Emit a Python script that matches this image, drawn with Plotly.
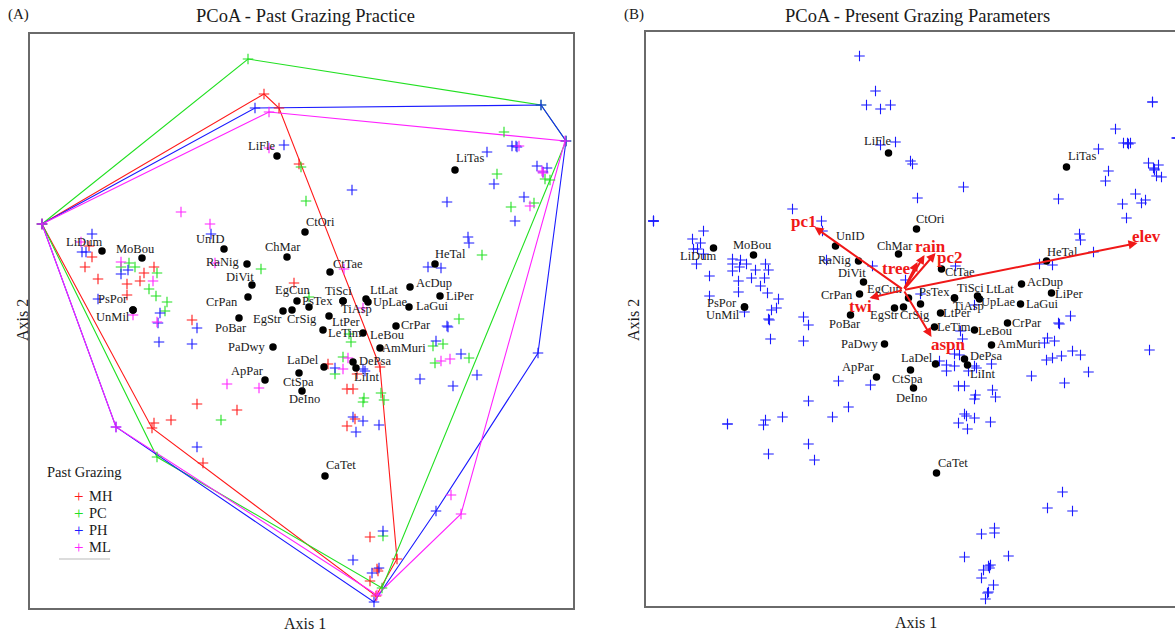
import plotly.graph_objects as go

# ---- site scores (PCoA axis 1 / axis 2), grouped by past grazing practice ----
mh_x = [-2.58, -0.36, -0.21, -0.01, -0.06, -2.11, -2.08, -2.15, -2.02, -1.46, -1.56, -1.60, -1.73, -1.73,
        -1.08, -1.03, -1.46, -1.48, -1.29, -0.97, -0.63, 0.28, 0.80, 0.57, 0.47, 0.53, 0.55, 0.47, 0.70,
        0.97, 0.77, 0.78, 0.70, 0.76]
mh_y = [1.06, 2.36, 2.22, 1.66, 0.47, 0.84, 0.73, 0.63, 0.51, 0.63, 0.57, 0.49, 0.46, 0.35,
        0.10, -0.74, -0.93, -0.98, -0.90, -1.33, -0.80, -0.34, -0.37, -0.44, -0.59, -0.59, -0.89, -0.96, -2.07,
        -2.29, -2.39, -2.41, -2.51, -2.66]

pc_x = [-2.58, -0.52, 2.41, 2.66, 0.01, 0.06, -0.39, 0.09, -1.71, -1.65, -1.79, -1.43, -1.51, -1.44,
        -1.33, -1.35, -1.43, -0.79, 0.49, 0.51, 0.43, 0.35, 0.64, 0.63, 0.81, 0.84, 0.83, 0.82, 2.04,
        1.97, 2.45, 2.50, 2.34, 2.11, 1.82, 1.59, 1.43, 1.33, 1.35, 1.69]
pc_y = [1.06, 2.71, 2.25, 1.89, 1.63, 1.29, 0.61, 0.33, 0.67, 0.63, 0.63, 0.57, 0.41, 0.34,
        0.28, 0.19, -1.27, -0.90, -0.04, -0.12, -0.27, -0.44, -0.68, -0.72, -0.63, -0.70, -2.06, -2.58, 1.98,
        1.56, 1.51, 1.50, 1.27, 1.23, 0.75, 0.11, -0.14, -0.16, -0.33, -0.28]

ph_x = [-2.58, -0.45, 2.41, 2.66, 2.38, 1.36, 0.74, -1.84, -2.08, -2.18, -2.14, -1.72, -1.79, -2.02,
        -1.40, -1.42, -1.03, -1.41, -1.08, -1.03, -0.89, -0.16, 0.52, 0.35, 0.63, 0.65, 0.53, 0.63,
        0.56, 0.79, 0.83, 0.53, 0.79, 0.72, 1.47, 1.48, 1.36, 1.61, 1.20, 1.53, 1.77, 1.28, 1.41,
        1.68, 1.69, 1.47, 1.87, 2.12, 2.16, 2.17, 2.37, 2.47, 2.43, 1.94, 2.24, 2.15]
ph_y = [1.06, 2.22, 2.25, 1.89, -0.23, -1.81, -2.72, -0.97, 0.96, 0.78, 0.78, 0.60, 0.56, 0.31,
        0.17, 0.07, 0.02, -0.12, -0.14, -1.17, 0.96, 1.85, 1.40, -0.38, -0.39, -0.41, -0.87, -0.91,
        -1.02, -0.95, -2.01, -2.30, -2.38, -2.43, 0.04, 0.03, -0.11, -0.24, -0.49, -0.56, -0.45, 0.63, 0.62,
        0.93, 0.87, 1.28, 1.78, 1.84, 1.84, 1.83, 1.64, 1.62, 1.58, 1.46, 1.33, 1.09]

ml_x = [-2.58, -0.31, 2.65, 1.61, 0.77, -1.84, -0.31, -1.19, -0.90, -0.85, 0.44, 0.63, -2.19, -1.79,
        -1.47, -1.67, -1.43, -0.73, -0.41, 0.48, 0.43, 1.41, 1.50, 1.51, 2.19, 2.42, 2.43, 2.30]
ml_y = [1.06, 2.18, 1.89, -1.84, -2.65, -0.97, 1.82, 1.18, 1.06, 0.67, 0.61, 0.22, 0.88, 0.68,
        0.49, 0.15, 0.08, -0.54, -0.58, -0.28, -0.39, -0.31, -0.29, -1.65, 1.84, 1.59, 1.57, 1.24]

groups = ["MH", "PC", "PH", "ML"]
group_colors = {"MH": "#ff1a1a", "PC": "#22e022", "PH": "#1a1aff", "ML": "#ff22ff"}

# ---- species scores ----
species = ["LiFle", "LiTas", "CtOri", "UnID", "ChMar", "LiDum", "MoBou", "RaNig", "HeTal", "CtTae",
           "DiVit", "AcDup", "LiPer", "CrPan", "EgCun", "PsTex", "TiSci", "LtLat", "UpLae", "TiAsp",
           "LaGui", "EgStr", "CrSig", "PoBar", "PsPor", "UnMil", "LtPer", "LeTim", "LeBou", "CrPar",
           "AmMuri", "PaDwy", "LaDel", "DePsa", "LiInt", "CtSpa", "ApPar", "DeIno", "CaTet"]
sp_x = [-0.23, 1.55, 0.05, -0.76, -0.13, -1.98, -1.58, -0.53, 1.35, 0.30,
        -0.48, 1.10, 1.40, -0.52, -0.03, 0.09, 0.43, 0.66, 0.68, 0.43,
        1.09, -0.17, -0.08, -0.61, -1.67, -1.67, 0.29, 0.23, 0.63, 0.96,
        0.80, -0.27, 0.24, 0.53, 0.56, -0.01, -0.35, 0.02, 0.25]
sp_y = [1.74, 1.60, 0.98, 0.81, 0.73, 0.79, 0.72, 0.66, 0.66, 0.58,
        0.45, 0.43, 0.34, 0.33, 0.29, 0.23, 0.29, 0.31, 0.28, 0.29,
        0.23, 0.19, 0.20, 0.12, 0.20, 0.20, 0.14, 0.00, -0.03, 0.04,
        -0.18, -0.17, -0.37, -0.32, -0.38, -0.43, -0.50, -0.61, -1.46]

# ---- fitted environmental vectors (present grazing parameters) ----
env_names = ["elev", "pc1", "rain", "pc2", "tree", "twi", "aspn"]
env_dx = [2.34, -0.89, 0.21, 0.32, 0.14, -0.34, 0.28]
env_dy = [0.47, 0.63, 0.35, 0.37, 0.28, -0.08, -0.47]
env_origin = (-0.08, 0.37)

# label nudges in screen pixels (dx right, dy down) so names sit beside their points
lab_a = {"LiFle": (-15, -10), "LiTas": (15, -12), "CtOri": (15, -10), "UnID": (-14, -10), "ChMar": (-4, -10),
         "LiDum": (-18, -9), "MoBou": (-7, -9), "RaNig": (-25, -2), "HeTal": (15, -10), "CtTae": (18, -8),
         "DiVit": (-12, -8), "AcDup": (24, -4), "LiPer": (20, 0), "CrPan": (-26, 5), "EgCun": (-5, -11),
         "PsTex": (8, -6), "TiSci": (-5, -10), "LtLat": (18, -9), "UpLae": (22, 0), "TiAsp": (13, 8),
         "LaGui": (23, -1), "EgStr": (-16, 8), "CrSig": (10, 9), "PoBar": (-8, 10), "PsPor": (-20, -11),
         "UnMil": (-20, 7), "LtPer": (17, 6), "LeTim": (22, 3), "LeBou": (24, 2), "CrPar": (20, -1),
         "AmMuri": (24, 0), "PaDwy": (-26, 0), "LaDel": (-21, -7), "DePsa": (22, -1), "LiInt": (11, 9),
         "CtSpa": (-1, 9), "ApPar": (-18, -9), "DeIno": (2, 8), "CaTet": (16, -11)}
lab_b = {"LiFle": (-11, -12), "LiTas": (15, -11), "CtOri": (14, -10), "UnID": (14, -10), "ChMar": (-4, -8),
         "LiDum": (-16, 8), "MoBou": (-1, -10), "RaNig": (-24, -1), "HeTal": (16, -9), "CtTae": (18, 3),
         "DiVit": (-12, -9), "AcDup": (23, -2), "LiPer": (18, 1), "CrPan": (-23, 1), "EgCun": (-24, -9),
         "PsTex": (14, -12), "TiSci": (16, -10), "LtLat": (22, -7), "UpLae": (18, 3), "TiAsp": (14, 8),
         "LaGui": (21, 0), "EgStr": (-10, 7), "CrSig": (11, 8), "PoBar": (-6, 9), "PsPor": (-23, -4),
         "UnMil": (-22, 8), "LtPer": (17, 0), "LeTim": (19, 0), "LeBou": (21, 1), "CrPar": (19, 0),
         "AmMuri": (27, -1), "PaDwy": (-25, 0), "LaDel": (-19, -6), "DePsa": (21, -3), "LiInt": (15, 9),
         "CtSpa": (-3, 9), "ApPar": (-18, -10), "DeIno": (-2, 10), "CaTet": (16, -10)}
env_lab = {"elev": (9, -7), "pc1": (-11, -6), "rain": (6, -9), "pc2": (14, 4),
           "tree": (-22, 6), "twi": (-9, 8), "aspn": (17, 7)}

SERIF = "Liberation Serif"
W, H = 1175, 634


def hull(xs, ys):
    """Convex hull (monotone chain), returned closed."""
    pts = sorted(set(zip(xs, ys)))

    def cross(o, a, b):
        return (a[0] - o[0]) * (b[1] - o[1]) - (a[1] - o[1]) * (b[0] - o[0])

    lower, upper = [], []
    for p in pts:
        while len(lower) >= 2 and cross(lower[-2], lower[-1], p) <= 0:
            lower.pop()
        lower.append(p)
    for p in reversed(pts):
        while len(upper) >= 2 and cross(upper[-2], upper[-1], p) <= 0:
            upper.pop()
        upper.append(p)
    ring = lower[:-1] + upper[:-1]
    ring.append(ring[0])
    return [p[0] for p in ring], [p[1] for p in ring]


site_data = {"MH": (mh_x, mh_y), "PC": (pc_x, pc_y), "PH": (ph_x, ph_y), "ML": (ml_x, ml_y)}
CROSS = 7.5

fig = go.Figure()

# panel A: group hulls
for g in groups:
    hx, hy = hull(*site_data[g])
    fig.add_trace(go.Scatter(x=hx, y=hy, mode="lines", line=dict(color=group_colors[g], width=1.1),
                             xaxis="x", yaxis="y", showlegend=False, hoverinfo="skip"))
# panel A: sites
for g in groups:
    gx, gy = site_data[g]
    fig.add_trace(go.Scatter(x=gx, y=gy, mode="markers", name=g,
                             marker=dict(symbol="cross-thin", size=CROSS,
                                         line=dict(color=group_colors[g], width=1.1)),
                             xaxis="x", yaxis="y", showlegend=False))
# panel A: species
fig.add_trace(go.Scatter(x=sp_x, y=sp_y, mode="markers", marker=dict(color="black", size=7.5),
                         xaxis="x", yaxis="y", showlegend=False))

# panel B: all sites in blue
all_x = mh_x + pc_x + ph_x + ml_x
all_y = mh_y + pc_y + ph_y + ml_y
fig.add_trace(go.Scatter(x=all_x, y=all_y, mode="markers",
                         marker=dict(symbol="cross-thin", size=CROSS, line=dict(color="#1a1aff", width=1.1)),
                         xaxis="x2", yaxis="y2", showlegend=False))
fig.add_trace(go.Scatter(x=sp_x, y=sp_y, mode="markers", marker=dict(color="black", size=7.5),
                         xaxis="x2", yaxis="y2", showlegend=False))

ann = []
lab_font = dict(family=SERIF, size=12.5, color="#1a1a1a")
for name, x, y in zip(species, sp_x, sp_y):
    dx, dy = lab_a[name]
    ann.append(dict(x=x, y=y, xref="x", yref="y", text=name, showarrow=False,
                    xshift=dx, yshift=-dy, font=lab_font))
    dx, dy = lab_b[name]
    ann.append(dict(x=x, y=y, xref="x2", yref="y2", text=name, showarrow=False,
                    xshift=dx, yshift=-dy, font=lab_font))

# environmental arrows
ox, oy = env_origin
for name, dx, dy in zip(env_names, env_dx, env_dy):
    tx, ty = ox + dx, oy + dy
    ann.append(dict(x=tx, y=ty, ax=ox, ay=oy, xref="x2", yref="y2", axref="x2", ayref="y2",
                    text="", showarrow=True, arrowhead=2, arrowsize=0.9, arrowwidth=2,
                    arrowcolor="#f01818", standoff=0, startstandoff=0))
    sx, sy = env_lab[name]
    ann.append(dict(x=tx, y=ty, xref="x2", yref="y2", text="<b>%s</b>" % name, showarrow=False,
                    xshift=sx, yshift=-sy, font=dict(family=SERIF, size=17, color="#f01818")))


def paper(px, py, text, size, **kw):
    d = dict(x=px / W, y=1 - py / H, xref="paper", yref="paper", text=text, showarrow=False,
             font=dict(family=SERIF, size=size, color=kw.pop("color", "#1a1a1a")),
             xanchor=kw.pop("xanchor", "center"), yanchor="middle")
    d.update(kw)
    return d


ann += [
    paper(18, 15, "(A)", 15),
    paper(305, 16, "PCoA - Past Grazing Practice", 18.5),
    paper(634, 15, "(B)", 15),
    paper(917, 16, "PCoA - Present Grazing Parameters", 18.5),
    paper(305, 623, "Axis 1", 16),
    paper(916, 622, "Axis 1", 16),
    paper(22, 320, "Axis 2", 16, textangle=-90),
    paper(633, 320, "Axis 2", 16, textangle=-90),
    paper(45, 472, "Past Grazing", 14.5, xanchor="left"),
]
for i, g in enumerate(groups):
    yy = 496 + i * 17
    ann.append(paper(79, yy, "+", 17, color=group_colors[g]))
    ann.append(paper(87, yy, g, 14.5, xanchor="left"))

shapes = [dict(type="line", xref="paper", yref="paper", x0=59 / W, x1=110 / W,
               y0=1 - 559 / H, y1=1 - 559 / H, line=dict(color="#dcdcdc", width=2))]

frame = dict(showline=True, linecolor="#6a6a6a", linewidth=1.5, showgrid=False, zeroline=False,
             showticklabels=False, ticks="")

fig.update_layout(
    width=W, height=H, margin=dict(l=0, r=0, t=0, b=0),
    paper_bgcolor="white", plot_bgcolor="white", showlegend=False,
    xaxis=dict(domain=[30 / W, 573 / W], range=[-2.70, 2.73], mirror=True, **frame),
    yaxis=dict(domain=[1 - 608 / H, 1 - 34 / H], range=[-2.78, 2.96], mirror=True, **frame),
    xaxis2=dict(domain=[645.5 / W, 1.0], range=[-2.66, 2.635], mirror=True, anchor="y2", **frame),
    yaxis2=dict(domain=[1 - 606 / H, 1 - 32 / H], range=[-2.79, 2.95], mirror=False, anchor="x2", **frame),
    annotations=ann, shapes=shapes,
)

fig.write_html("out.html")
